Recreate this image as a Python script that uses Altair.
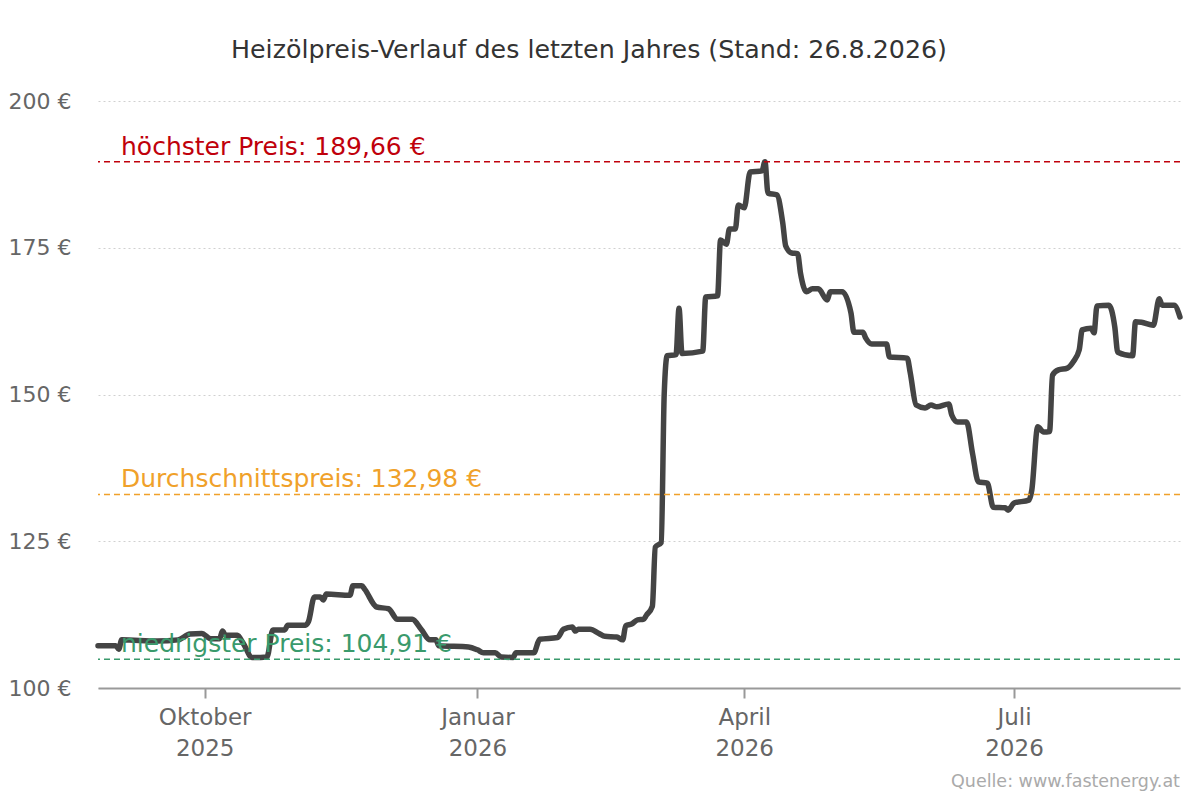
import altair as alt
import pandas as pd

dates = [
    "2025-08-26", "2025-09-01", "2025-09-02", "2025-09-03", "2025-09-15", "2025-09-22",
    "2025-09-26", "2025-09-30", "2025-10-03", "2025-10-06", "2025-10-07", "2025-10-08",
    "2025-10-12", "2025-10-14", "2025-10-17", "2025-10-22", "2025-10-24", "2025-10-28",
    "2025-10-29", "2025-11-04", "2025-11-05", "2025-11-07", "2025-11-09", "2025-11-10",
    "2025-11-11", "2025-11-19", "2025-11-20", "2025-11-23", "2025-11-24", "2025-11-28",
    "2025-12-02", "2025-12-05", "2025-12-10", "2025-12-13", "2025-12-16", "2025-12-18",
    "2025-12-19", "2025-12-29", "2026-01-01", "2026-01-03", "2026-01-07", "2026-01-09",
    "2026-01-13", "2026-01-14", "2026-01-20", "2026-01-22", "2026-01-28", "2026-01-30",
    "2026-02-02", "2026-02-03", "2026-02-04", "2026-02-08", "2026-02-11", "2026-02-13",
    "2026-02-17", "2026-02-19", "2026-02-20", "2026-02-22", "2026-02-24", "2026-02-26",
    "2026-02-27", "2026-03-01", "2026-03-02", "2026-03-04", "2026-03-05", "2026-03-06",
    "2026-03-09", "2026-03-10", "2026-03-11", "2026-03-18", "2026-03-19", "2026-03-23",
    "2026-03-24", "2026-03-26", "2026-03-27", "2026-03-29", "2026-03-30", "2026-04-01",
    "2026-04-03", "2026-04-07", "2026-04-08", "2026-04-09", "2026-04-12", "2026-04-14",
    "2026-04-15", "2026-04-17", "2026-04-19", "2026-04-20", "2026-04-22", "2026-04-24",
    "2026-04-26", "2026-04-29", "2026-04-30", "2026-05-04", "2026-05-07", "2026-05-08",
    "2026-05-11", "2026-05-12", "2026-05-14", "2026-05-19", "2026-05-20", "2026-05-26",
    "2026-05-27", "2026-05-29", "2026-06-01", "2026-06-03", "2026-06-05", "2026-06-09",
    "2026-06-10", "2026-06-12", "2026-06-15", "2026-06-17", "2026-06-19", "2026-06-22",
    "2026-06-24", "2026-06-28", "2026-06-29", "2026-07-01", "2026-07-06", "2026-07-07",
    "2026-07-09", "2026-07-11", "2026-07-13", "2026-07-14", "2026-07-16", "2026-07-19",
    "2026-07-21", "2026-07-23", "2026-07-24", "2026-07-27", "2026-07-28", "2026-07-29",
    "2026-08-02", "2026-08-04", "2026-08-05", "2026-08-10", "2026-08-11", "2026-08-13",
    "2026-08-17", "2026-08-19", "2026-08-20", "2026-08-24", "2026-08-26",
]

prices = [
    107.2, 107.2, 106.6, 108.2, 108.0, 108.2,
    109.2, 109.3, 108.4, 108.4, 109.7, 109.0,
    109.0, 107.6, 105.2, 105.3, 109.9, 109.9,
    110.7, 110.7, 111.3, 115.5, 115.5, 115.0,
    116.0, 115.8, 117.4, 117.4, 116.8, 113.8,
    113.5, 111.7, 111.7, 110.0, 108.2, 108.2,
    107.2, 107.0, 106.5, 106.0, 106.0, 105.3,
    105.2, 106.0, 106.0, 108.3, 108.6, 110.0,
    110.4, 109.7, 110.0, 110.0, 109.3, 108.8,
    108.7, 108.2, 110.6, 110.9, 111.6, 111.7,
    112.4, 113.9, 124.0, 124.8, 150.0, 156.6,
    156.8, 164.7, 157.0, 157.4, 166.6, 166.8,
    176.3, 175.6, 178.2, 178.2, 182.3, 181.8,
    187.9, 188.1, 189.66, 184.3, 184.0, 179.2,
    175.3, 174.1, 174.0, 170.6, 167.5, 168.0,
    168.0, 166.1, 167.5, 167.5, 163.9, 160.6,
    160.6, 159.6, 158.6, 158.6, 156.4, 156.2,
    153.7, 148.2, 147.7, 148.2, 147.9, 148.4,
    146.5, 145.3, 145.3, 140.0, 135.1, 134.9,
    130.8, 130.7, 130.3, 131.5, 132.0, 133.7,
    144.5, 143.6, 143.7, 153.3, 154.2, 154.5,
    155.6, 157.6, 161.0, 161.3, 160.5, 165.1,
    165.2, 161.5, 157.2, 156.6, 162.4, 162.3,
    161.8, 166.3, 165.2, 165.2, 163.2,
]

ref_keys = ["max", "avg", "min"]
ref_values = [189.66, 132.98, 104.91]
ref_texts = ["höchster Preis: 189,66 €", "Durchschnittspreis: 132,98 €", "niedrigster Preis: 104,91 €"]
ref_colors = ["#c0000b", "#f0a12a", "#3a9a6c"]

y_ticks = [100, 125, 150, 175, 200]
title_text = "Heizölpreis-Verlauf des letzten Jahres (Stand: 26.8.2026)"
source_text = "Quelle: www.fastenergy.at"

FONT = "DejaVu Sans"
W, H = 1082, 587

df = pd.DataFrame({"date": dates, "price": prices})
ref_df = pd.DataFrame({"key": ref_keys, "value": ref_values, "text": ref_texts})

x_scale = alt.Scale(
    type="utc",
    domain=[alt.DateTime(year=2025, month=8, date=26, utc=True),
            alt.DateTime(year=2026, month=8, date=26, utc=True)],
)
x_axis = alt.Axis(
    values=[alt.DateTime(year=2025, month=10, date=1, utc=True),
            alt.DateTime(year=2026, month=1, date=1, utc=True),
            alt.DateTime(year=2026, month=4, date=1, utc=True),
            alt.DateTime(year=2026, month=7, date=1, utc=True)],
    labelExpr="[utcmonth(datum.value)==0 ? 'Januar' : utcmonth(datum.value)==3 ? 'April' : utcmonth(datum.value)==6 ? 'Juli' : 'Oktober', utcFormat(datum.value, '%Y')]",
    title=None,
    grid=False,
    domainColor="#999999",
    domainWidth=2,
    tickColor="#999999",
    tickWidth=2,
    tickSize=10,
    labelFont=FONT,
    labelFontSize=23,
    labelColor="#666666",
    labelPadding=8,
    labelLineHeight=31,
    labelAngle=0,
)
y_axis = alt.Axis(
    values=y_ticks,
    labelExpr="datum.value + ' €'",
    title=None,
    domain=False,
    ticks=False,
    grid=True,
    gridColor="#d0d0d0",
    gridDash=[2, 3],
    gridWidth=1,
    labelFont=FONT,
    labelFontSize=22,
    labelColor="#666666",
    labelPadding=27,
)

color_scale = alt.Scale(domain=ref_keys, range=ref_colors)

line = alt.Chart(df).mark_line(
    color="#444444", strokeWidth=5.5, strokeJoin="round", strokeCap="round",
    interpolate="monotone",
).encode(
    x=alt.X("date:T", scale=x_scale, axis=x_axis),
    y=alt.Y("price:Q", scale=alt.Scale(domain=[100, 200]), axis=y_axis),
)

rules = alt.Chart(ref_df).mark_rule(strokeDash=[6, 4], strokeWidth=1.5).encode(
    y="value:Q",
    color=alt.Color("key:N", scale=color_scale, legend=None),
)

labels = alt.Chart(ref_df).mark_text(
    align="left", baseline="alphabetic", dy=-7, font=FONT, fontSize=25
).encode(
    x=alt.value(23),
    y="value:Q",
    text="text:N",
    color=alt.Color("key:N", scale=color_scale, legend=None),
)

title = alt.Chart(pd.DataFrame({"t": [title_text]})).mark_text(
    align="center", baseline="middle", font=FONT, fontSize=25.3, color="#333333"
).encode(x=alt.value(491), y=alt.value(-51), text="t:N")

source = alt.Chart(pd.DataFrame({"t": [source_text]})).mark_text(
    align="right", baseline="middle", font=FONT, fontSize=17.5, color="#aaaaaa"
).encode(x=alt.value(W), y=alt.value(681), text="t:N")

chart = alt.layer(line, rules, labels, title, source).properties(
    width=W,
    height=H,
    autosize=alt.AutoSizeParams(type="none"),
    padding={"left": 90, "top": 93, "right": 12, "bottom": 112},
).configure_view(stroke=None)

chart.save("out.html", embed_options={"renderer": "svg", "actions": False})
